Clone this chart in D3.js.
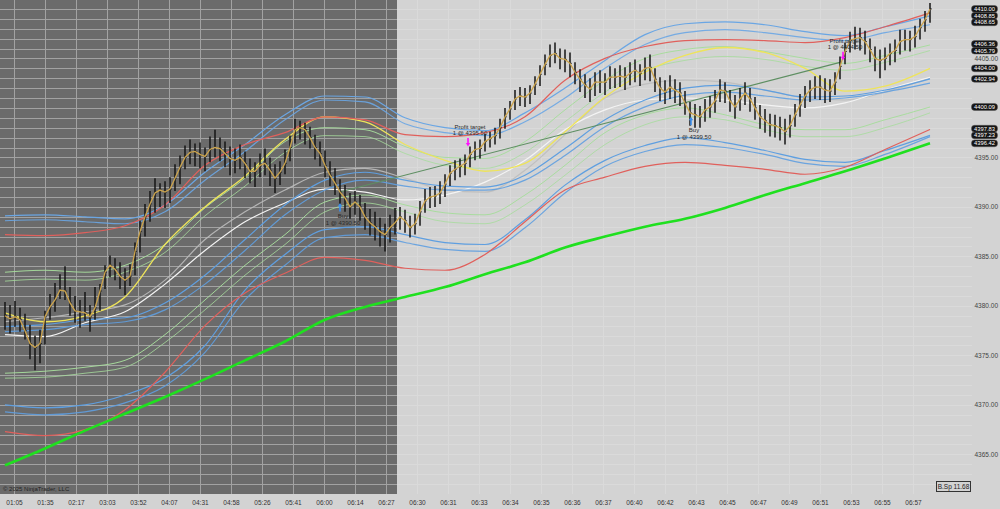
<!DOCTYPE html>
<html><head><meta charset="utf-8">
<script src="https://cdn.jsdelivr.net/npm/d3@7"></script>
<style>body{margin:0;background:#d3d3d3;} svg{display:block;font-family:"Liberation Sans",Arial,sans-serif;}</style>
</head><body><svg id="c" width="1000" height="509"></svg>
<script>
// ---------- DATA ----------
const closes = [
4379.0,4378.7,4378.9,4378.6,4377.5,4376.2,4375.8,4376.2,4378.9,4379.9,
4380.6,4381.6,4381.5,4380.3,4379.5,4379.4,4379.3,4378.9,4379.8,4381.5,
4383.4,4384.1,4383.7,4383.0,4382.6,4383.0,4385.5,4387.5,4389.0,4390.3,
4391.4,4391.7,4391.5,4391.8,4392.9,4394.0,4395.0,4395.5,4395.6,4395.3,
4395.1,4395.8,4396.0,4395.9,4395.4,4394.9,4394.7,4395.0,4394.4,4393.6,
4393.6,4394.2,4394.4,4393.7,4392.9,4393.5,4394.4,4396.0,4397.8,4398.0,
4397.8,4397.0,4396.0,4395.4,4394.2,4393.2,4392.4,4391.5,4390.9,4390.0,
4390.5,4390.0,4389.0,4388.4,4388.0,4387.5,4387.2,4387.9,4388.4,4389.0,
4388.6,4387.9,4388.3,4389.5,4390.6,4391.0,4391.1,4391.4,4392.3,4393.4,
4393.8,4394.1,4394.4,4395.3,4395.8,4395.9,4396.6,4396.9,4397.2,4398.0,
4399.1,4399.9,4400.9,4401.2,4401.1,4401.5,4402.4,4403.4,4404.4,4405.3,
4405.5,4405.0,4404.9,4404.5,4403.6,4402.9,4402.3,4401.9,4402.6,4402.6,
4402.6,4403.1,4403.1,4403.2,4403.1,4403.5,4403.8,4403.5,4404.0,4404.1,
4402.9,4402.0,4401.6,4402.1,4401.8,4401.5,4400.5,4399.5,4399.3,4399.1,
4399.8,4400.1,4400.7,4401.8,4401.7,4400.7,4400.1,4400.9,4401.5,4400.9,
4400.0,4399.1,4398.7,4398.3,4398.2,4398.0,4397.6,4398.2,4399.3,4400.3,
4401.2,4401.8,4402.1,4402.1,4401.8,4401.7,4402.6,4404.2,4405.7,4406.8,
4407.0,4407.1,4406.7,4405.9,4405.0,4404.8,4405.0,4405.5,4405.8,4406.7,
4406.9,4406.9,4407.2,4408.1,4408.9,4410.0];
const highs = [
4380.4,4380.1,4380.5,4379.8,4379.2,4378.1,4377.0,4377.6,4379.5,4381.2,
4382.3,4383.2,4384.0,4381.9,4381.0,4380.6,4381.4,4380.1,4381.9,4382.2,
4384.1,4385.1,4384.8,4384.4,4383.8,4384.2,4386.4,4388.6,4390.3,4391.6,
4392.9,4392.4,4392.6,4393.0,4394.3,4395.2,4396.2,4396.8,4396.4,4396.5,
4396.0,4397.1,4397.8,4397.0,4396.6,4396.1,4395.9,4396.3,4395.6,4394.9,
4394.5,4395.4,4395.9,4395.0,4394.3,4394.6,4395.8,4397.2,4398.9,4398.7,
4398.5,4398.1,4397.3,4396.6,4395.7,4394.6,4393.9,4392.8,4392.2,4391.4,
4391.6,4391.2,4390.4,4389.8,4389.5,4388.9,4388.3,4389.2,4389.9,4390.0,
4389.7,4389.1,4389.3,4390.6,4391.8,4392.0,4392.1,4392.6,4393.3,4394.2,
4394.7,4394.9,4395.3,4396.1,4396.6,4396.8,4397.4,4397.6,4398.0,4398.9,
4400.0,4400.7,4401.8,4402.1,4402.0,4402.3,4403.2,4404.3,4405.4,4406.4,
4406.6,4406.0,4405.9,4405.6,4404.6,4403.9,4403.4,4403.0,4403.6,4403.8,
4403.5,4404.2,4404.0,4404.3,4404.1,4404.6,4404.9,4404.4,4405.1,4405.4,
4404.0,4403.1,4402.8,4403.3,4402.9,4402.6,4401.7,4400.6,4400.4,4400.2,
4400.9,4401.2,4401.8,4402.9,4402.6,4401.8,4401.3,4402.0,4402.6,4402.0,
4401.1,4400.3,4399.9,4399.4,4399.3,4399.1,4398.9,4399.3,4400.4,4401.4,
4402.2,4402.8,4403.2,4403.3,4403.0,4402.9,4403.6,4405.2,4406.6,4407.7,
4408.2,4408.1,4407.8,4407.0,4406.2,4405.9,4406.1,4406.5,4406.9,4407.9,
4407.9,4407.8,4408.3,4409.0,4409.8,4410.6];
const lows = [
4377.6,4377.2,4377.9,4377.4,4376.6,4374.6,4373.5,4374.2,4376.1,4378.6,
4379.4,4380.7,4380.6,4379.0,4378.3,4377.8,4378.5,4377.4,4378.6,4379.5,
4381.7,4382.9,4382.6,4381.7,4381.1,4382.0,4383.1,4385.4,4387.0,4388.5,
4389.4,4390.0,4389.9,4390.4,4391.6,4392.3,4393.8,4394.3,4394.1,4393.9,
4393.6,4394.5,4395.0,4394.6,4394.0,4393.2,4393.4,4393.8,4392.9,4392.4,
4392.0,4393.0,4393.2,4392.1,4391.4,4392.2,4393.3,4394.6,4396.4,4396.8,
4396.3,4395.9,4394.8,4394.1,4393.0,4392.1,4391.2,4390.3,4389.5,4388.8,
4389.2,4388.6,4387.7,4387.1,4386.6,4386.0,4385.5,4386.4,4387.2,4387.7,
4387.4,4386.9,4387.2,4388.1,4389.4,4389.9,4390.0,4390.3,4391.0,4392.1,
4392.7,4393.0,4393.2,4394.0,4394.7,4394.9,4395.6,4396.0,4396.3,4396.9,
4397.9,4398.8,4399.8,4400.2,4400.1,4400.4,4401.3,4402.2,4403.3,4404.1,
4404.5,4403.9,4403.6,4403.1,4402.4,4401.6,4401.0,4400.6,4401.2,4401.5,
4401.3,4401.9,4402.0,4402.1,4401.8,4402.3,4402.6,4402.2,4402.8,4402.7,
4401.6,4400.7,4400.4,4400.9,4400.5,4400.2,4399.3,4398.2,4398.0,4398.0,
4398.6,4399.0,4399.5,4400.6,4400.5,4399.6,4398.9,4399.7,4400.3,4399.6,
4398.8,4397.9,4397.5,4397.1,4397.0,4396.7,4396.3,4397.0,4398.1,4399.1,
4400.0,4400.6,4400.9,4400.8,4400.5,4400.6,4401.3,4402.9,4404.4,4405.6,
4405.9,4405.8,4405.4,4404.6,4403.7,4403.0,4403.8,4404.3,4404.6,4405.4,
4405.8,4405.7,4406.1,4406.9,4407.7,4408.6];

// indicator lines, sampled at these bar indices
const sampleIdx = [0,8,16,24,32,40,48,56,64,72,80,88,96,104,112,120,128,136,144,152,160,168,176,185];
const greenMA  = [4363.9,4365.6,4367.4,4369.1,4370.8,4372.6,4374.5,4376.4,4378.6,4379.9,4380.9,4381.9,4383.2,4384.4,4385.9,4387.0,4388.0,4388.8,4389.9,4391.2,4392.4,4393.6,4394.9,4396.42];
const redUpper = [4387.2,4387.1,4387.4,4388.1,4390.2,4394.2,4396.3,4397.5,4399.1,4398.8,4397.3,4397.1,4397.5,4399.1,4402.8,4405.0,4406.2,4406.8,4406.9,4406.8,4406.6,4407.1,4408.2,4409.6];
const blueUp1  = [4389.1,4389.2,4389.0,4388.8,4390.2,4393.5,4396.3,4399.3,4401.2,4401.1,4399.0,4398.0,4397.7,4399.5,4402.0,4404.8,4407.4,4408.5,4408.7,4408.4,4407.7,4407.3,4408.2,4409.3];
const blueUp2  = [4388.6,4388.7,4388.5,4388.3,4389.5,4392.7,4395.6,4398.8,4400.8,4400.6,4398.4,4397.5,4397.2,4398.6,4401.0,4404.0,4406.4,4407.6,4407.9,4407.6,4407.1,4406.8,4407.6,4408.4];
const yellowMA = [4379.3,4378.4,4379.0,4380.9,4386.2,4390.0,4393.1,4396.8,4399.1,4398.6,4396.3,4394.7,4393.6,4394.4,4397.6,4401.1,4403.6,4405.3,4406.1,4405.6,4404.0,4401.7,4402.2,4404.0];
const greenUp1 = [4383.4,4383.6,4383.4,4384.1,4386.2,4389.9,4392.9,4396.6,4398.0,4397.8,4396.1,4395.0,4394.9,4396.6,4399.8,4402.8,4405.0,4405.9,4406.2,4405.7,4405.0,4404.5,4405.3,4406.36];
const greenUp2 = [4382.5,4382.7,4382.6,4383.4,4385.4,4389.1,4392.1,4395.5,4397.2,4397.1,4395.4,4394.2,4393.9,4395.5,4398.6,4401.6,4403.8,4404.8,4405.2,4404.9,4404.2,4403.8,4404.6,4405.79];
const whiteMA  = [4377.1,4376.9,4378.3,4379.4,4382.2,4385.6,4388.5,4390.4,4391.8,4391.5,4390.7,4391.2,4392.5,4394.7,4397.8,4399.8,4400.8,4401.0,4400.8,4400.3,4400.0,4400.5,4401.8,4403.1];
const grayMA   = [4378.4,4378.8,4379.4,4380.1,4382.6,4386.7,4389.5,4391.7,4393.5,4393.9,4392.9,4391.7,4391.5,4393.7,4397.3,4401.0,4402.4,4402.8,4402.6,4401.8,4401.0,4400.8,4401.6,4403.0];
const blueMid1 = [4377.9,4378.1,4378.6,4378.8,4380.3,4383.1,4386.7,4390.2,4392.7,4393.5,4392.7,4392.1,4392.0,4393.2,4395.9,4398.8,4400.8,4402.0,4402.3,4401.8,4401.1,4401.2,4401.8,4402.94];
const blueMid2 = [4377.4,4377.6,4378.1,4378.4,4379.6,4382.2,4385.6,4389.2,4391.7,4392.7,4392.1,4391.7,4391.7,4392.7,4395.2,4398.1,4400.1,4401.3,4401.6,4401.2,4400.8,4401.0,4401.6,4402.5];
const greenLo1 = [4373.2,4373.4,4373.8,4374.5,4377.1,4380.6,4384.1,4387.2,4390.5,4391.2,4390.2,4389.4,4389.2,4391.2,4394.2,4397.5,4399.3,4400.0,4399.3,4398.3,4397.8,4397.8,4398.8,4400.09];
const greenLo2 = [4372.7,4372.8,4373.2,4373.8,4376.3,4379.6,4383.1,4386.2,4389.5,4390.4,4389.5,4388.5,4388.3,4390.2,4393.2,4396.3,4398.3,4399.1,4398.8,4397.8,4397.1,4397.1,4398.0,4399.5];
const redLower = [4367.3,4366.9,4367.5,4369.5,4373.3,4378.0,4381.3,4383.3,4384.9,4384.6,4383.8,4383.6,4385.2,4388.5,4391.7,4393.0,4394.1,4394.5,4394.2,4393.8,4393.3,4394.0,4395.8,4397.83];
const blueLo1  = [4370.0,4369.7,4370.0,4371.0,4372.7,4376.0,4381.6,4385.2,4387.7,4388.0,4387.2,4386.4,4386.2,4388.7,4392.2,4394.7,4396.2,4397.0,4396.5,4395.7,4394.8,4394.5,4395.7,4397.23];
const blueLo2  = [4369.3,4369.0,4369.3,4370.2,4371.9,4375.3,4380.6,4384.1,4386.9,4387.2,4386.4,4385.7,4385.5,4387.9,4391.4,4394.1,4395.6,4396.3,4396.0,4395.3,4394.4,4394.1,4395.3,4397.1];

// trade line (entry -> exit), bar index / price
const tradeLine = [[67, 4391.5], [167, 4404.6]];

// x-axis tick labels and their bar positions
const timeLabels = ["01:05","01:35","02:17","03:03","03:52","04:07","04:31","04:58","05:26","05:41","06:00","06:14","06:27",
  "06:30","06:31","06:33","06:34","06:35","06:36","06:37","06:40","06:42","06:43","06:45","06:47","06:49","06:51","06:53","06:55","06:57"];
const tickIdx = [1.8,8,14.2,20.4,26.6,32.8,39,45.2,51.4,57.6,63.8,70,76.2,82.4,88.6,94.8,101,107.2,113.4,119.6,125.8,132,138.2,144.4,150.6,156.8,163,169.2,175.4,181.6];
const priceTicks = [4365,4370,4375,4380,4385,4390,4395,4405];
const valueLabels = [4410.00,4408.85,4408.65,4406.36,4405.79,4404.00,4402.94,4400.09,4397.83,4397.23,4396.42];

// executions: bar index, price anchor, kind, text
const executions = [
  {i:67, p:4390.6, kind:"buy", t1:"Buy", t2:"1 @ 4390.50"},
  {i:92.6, p:4395.9, kind:"pt", t1:"Profit target", t2:"1 @ 4395.50"},
  {i:137.2, p:4399.3, kind:"buy", t1:"Buy", t2:"1 @ 4399.50"},
  {i:167.6, p:4404.6, kind:"pt", t1:"Profit target", t2:"1 @ 4404.50"}
];

// ---------- DRAW ----------
const svg = d3.select("#c");
const x = d3.scaleLinear().domain([0, closes.length - 1]).range([5, 930]);
const y = d3.scaleLinear().domain([4361.2, 4410.9]).range([492, 0]);
const darkX = x(78.4);
const plotBottom = 494;

svg.append("rect").attr("width", 1000).attr("height", 509).attr("fill", "#d3d3d3");
svg.append("rect").attr("x", 0).attr("y", 0).attr("width", darkX).attr("height", plotBottom).attr("fill", "#6b6b6b");

// grid
const grid = svg.append("g");
d3.range(4362, 4411, 1).forEach(v => {
  const yy = Math.round(y(v)) + 0.5;
  grid.append("line").attr("x1", 0).attr("x2", darkX).attr("y1", yy).attr("y2", yy).attr("stroke", "#a2a2a2").attr("stroke-width", 1);
  grid.append("line").attr("x1", darkX).attr("x2", 972).attr("y1", yy).attr("y2", yy).attr("stroke", "#dadada").attr("stroke-width", 1);
});
tickIdx.forEach(t => {
  const xx = Math.round(x(t)) + 0.5;
  const dark = xx < darkX;
  grid.append("line").attr("x1", xx).attr("x2", xx).attr("y1", 0).attr("y2", plotBottom)
    .attr("stroke", dark ? "#a2a2a2" : "#dadada").attr("stroke-width", 1);
});

// indicator lines
const lineGen = d3.line().x((d, i) => x(sampleIdx[i])).y(d => y(d)).curve(d3.curveMonotoneX);
const series = [
  {v: greenLo2, c: "#a6dc9c", w: 1, o: 0.8},
  {v: greenLo1, c: "#a6dc9c", w: 1, o: 0.95},
  {v: blueLo2, c: "#5f9fe0", w: 1.2, o: 0.9},
  {v: blueLo1, c: "#5f9fe0", w: 1.2, o: 1},
  {v: redLower, c: "#e0605c", w: 1.2, o: 1},
  {v: grayMA, c: "#bdbdbd", w: 1.2, o: 0.9},
  {v: whiteMA, c: "#f4f4f4", w: 1.2, o: 1},
  {v: blueMid2, c: "#5f9fe0", w: 1.2, o: 0.9},
  {v: blueMid1, c: "#5f9fe0", w: 1.2, o: 1},
  {v: greenUp2, c: "#a6dc9c", w: 1, o: 0.8},
  {v: greenUp1, c: "#a6dc9c", w: 1, o: 0.95},
  {v: yellowMA, c: "#eee45a", w: 1.3, o: 1},
  {v: blueUp2, c: "#6aa6e4", w: 1.2, o: 0.9},
  {v: blueUp1, c: "#6aa6e4", w: 1.2, o: 1},
  {v: redUpper, c: "#e0605c", w: 1.2, o: 1},
  {v: greenMA, c: "#1fe01f", w: 2.6, o: 1}
];
const lg = svg.append("g").attr("fill", "none");
series.forEach(s => lg.append("path").attr("d", lineGen(s.v)).attr("stroke", s.c).attr("stroke-width", s.w).attr("stroke-opacity", s.o));

// trade line
lg.append("line").attr("x1", x(tradeLine[0][0])).attr("y1", y(tradeLine[0][1]))
  .attr("x2", x(tradeLine[1][0])).attr("y2", y(tradeLine[1][1]))
  .attr("stroke", "#5e8f62").attr("stroke-width", 1.1);

// bars
const bars = svg.append("g").attr("stroke", "#141414");
closes.forEach((c, i) => {
  const xx = x(i);
  bars.append("line").attr("x1", xx).attr("x2", xx).attr("y1", y(highs[i])).attr("y2", y(lows[i])).attr("stroke-width", 1.5);
  bars.append("line").attr("x1", xx).attr("x2", xx + 1.8).attr("y1", y(c)).attr("y2", y(c)).attr("stroke-width", 0.9);
});

// close-following fast average (gold)
svg.append("path").attr("d", d3.line().x((d, i) => x(i)).y(d => y(d))(closes))
  .attr("fill", "none").attr("stroke", "#cca44c").attr("stroke-width", 1.3);

// executions
const ex = svg.append("g").attr("font-size", "6px").attr("text-anchor", "middle");
executions.forEach(e => {
  const xx = x(e.i);
  if (e.kind === "buy") {
    const yy = y(e.p) + 2;
    ex.append("path").attr("d", `M${xx},${yy} l-2.2,3.5 h1.4 v5 h1.6 v-5 h1.4 z`).attr("fill", "#3a8ff0");
    ex.append("text").attr("x", xx + 3).attr("y", yy + 15).text(e.t1).attr("fill", "#2a2a2a");
    ex.append("text").attr("x", xx + 3).attr("y", yy + 22).text(e.t2).attr("fill", "#2a2a2a");
  } else {
    const yy = y(e.p) - 2;
    ex.append("path").attr("d", `M${xx},${yy} l-2.2,-3.5 h1.4 v-5 h1.6 v5 h1.4 z`).attr("fill", "#ff10ff");
    ex.append("text").attr("x", xx + 2).attr("y", yy - 17).text(e.t1).attr("fill", "#2a2a2a");
    ex.append("text").attr("x", xx + 2).attr("y", yy - 11).text(e.t2).attr("fill", "#2a2a2a");
  }
});

// x axis
const xa = svg.append("g").attr("transform", `translate(0,${plotBottom})`)
  .call(d3.axisBottom(x).tickValues(tickIdx).tickFormat((d, i) => timeLabels[i]).tickSize(0).tickPadding(6));
xa.select(".domain").remove();
xa.selectAll("text").attr("font-size", "6.5px").attr("fill", "#333").attr("font-family", "Liberation Sans, Arial, sans-serif");

// y axis (right)
const ya = svg.append("g").attr("transform", "translate(998,0)")
  .call(d3.axisLeft(y).tickValues(priceTicks).tickFormat(d3.format(".2f")).tickSize(0).tickPadding(0));
ya.select(".domain").remove();
ya.selectAll("text").attr("font-size", "6.5px").attr("fill", "#444").attr("font-family", "Liberation Sans, Arial, sans-serif");

// value boxes (stacked to avoid overlap)
const sorted = valueLabels.slice().sort((a, b) => a - b);
let prev = 1e9;
const pos = sorted.map(v => {
  let yy = y(v);
  if (yy > prev - 6.6) yy = prev - 6.6;
  prev = yy;
  return {v, yy};
});
const vb = svg.append("g");
pos.forEach(p => {
  vb.append("rect").attr("x", 971.5).attr("y", p.yy - 3.4).attr("width", 26).attr("height", 6.8).attr("rx", 3)
    .attr("fill", "#141414").attr("stroke", "#555").attr("stroke-width", 0.5);
  vb.append("text").attr("x", 984.5).attr("y", p.yy + 2.1).attr("text-anchor", "middle")
    .attr("font-size", "5.8px").attr("fill", "#fff").text(d3.format(".2f")(p.v));
});

// copyright + spread box
svg.append("text").attr("x", 3).attr("y", 491).attr("font-size", "6px").attr("fill", "#222").text("© 2025 NinjaTrader, LLC");
svg.append("rect").attr("x", 936.5).attr("y", 481.5).attr("width", 34).attr("height", 10).attr("fill", "#d3d3d3").attr("stroke", "#333").attr("stroke-width", 1);
svg.append("text").attr("x", 953.5).attr("y", 489).attr("text-anchor", "middle").attr("font-size", "6.5px").attr("fill", "#222").text("B.Sp 11.68");
</script></body></html>
